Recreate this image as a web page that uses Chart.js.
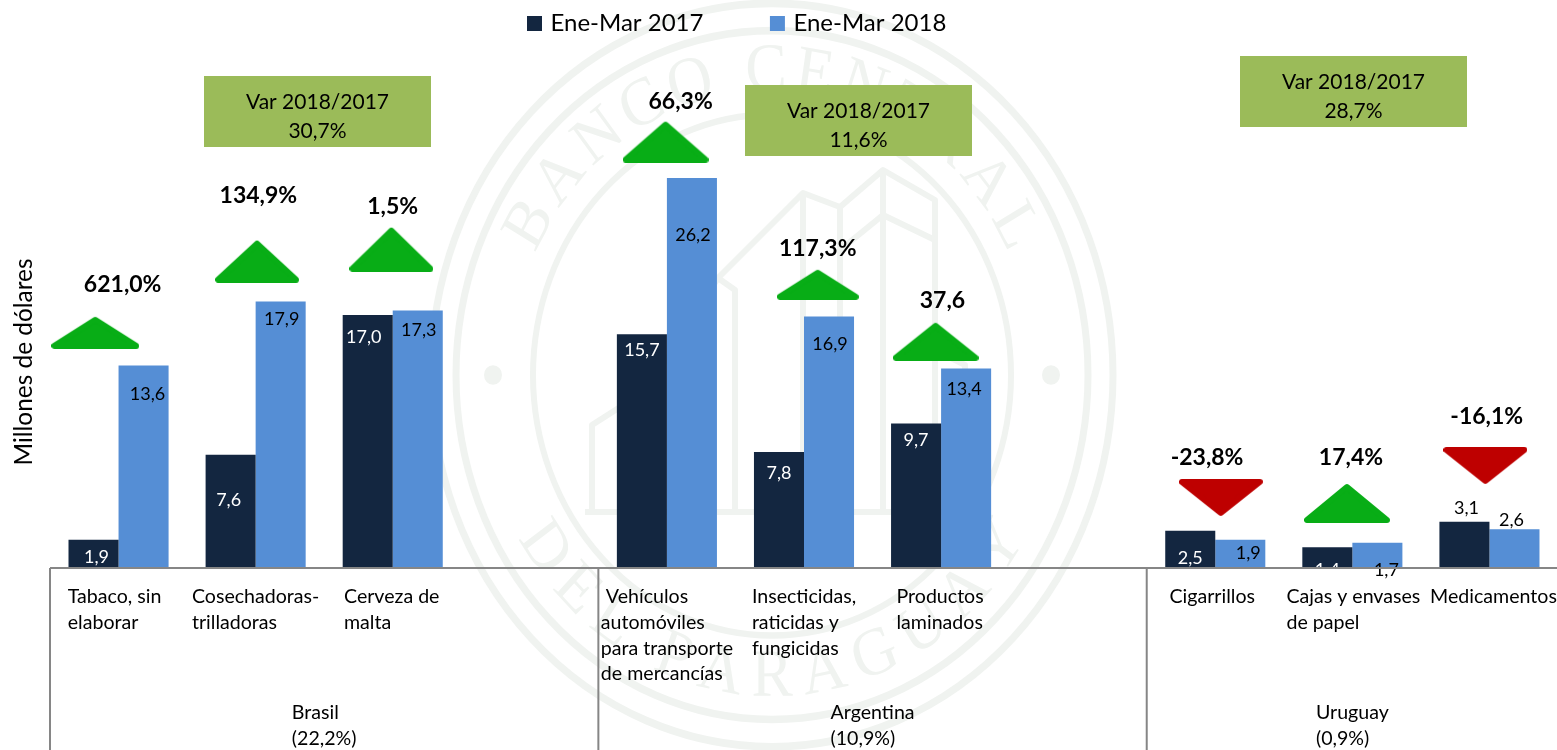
<!DOCTYPE html>
<html><head><meta charset="utf-8">
<style>html,body{margin:0;padding:0;background:#fff;overflow:hidden}canvas{display:block}</style>
<script src="https://cdn.jsdelivr.net/npm/chart.js@4"></script>
</head><body><canvas id="c" width="1564" height="750"></canvas>
<script>
// ---- data ----
const categories = ['Tabaco, sin|elaborar','Cosechadoras-|trilladoras','Cerveza de|malta','',' Vehículos|automóviles|para transporte|de mercancías','Insecticidas,|raticidas y|fungicidas','Productos|laminados','','Cigarrillos','Cajas y envases|de papel','Medicamentos'];
const series2017 = [1.9,7.6,17.0,null,15.7,7.8,9.7,null,2.5,1.4,3.1];
const series2018 = [13.6,17.9,17.3,null,26.2,16.9,13.4,null,1.9,1.7,2.6];
const seriesNames = ['Ene-Mar 2017','Ene-Mar 2018'];
const groups = ['Brasil|(22,2%)','Argentina|(10,9%)','Uruguay|(0,9%)'];
const groupSpans = [[-0.5,3.5],[3.5,7.5],[7.5,10.5]];
const varLabels = ['621,0%','134,9%','1,5%','66,3%','117,3%','37,6','-23,8%','17,4%','-16,1%'];
const varBoxTexts = [['Var 2018/2017','30,7%'],['Var 2018/2017','11,6%'],['Var 2018/2017','28,7%']];
const yTitle = 'Millones de dólares';
const arrowX = [-0.17,1.01,1.99,3.99,5.10,5.96,8.04,8.96,9.97];
const arrowY = [15.83,20.61,21.41,28.64,19.06,15.23,4.71,4.37,6.86];
const varLabelX = [0.03,1.02,2.0,4.10,5.10,6.01,7.94,8.99,9.98];
const varLabelY = [19.03,25.01,24.27,31.33,21.45,17.95,7.39,7.39,10.15];

// ---- layout / style ----
const FONT = 'Lato';
const DARK = '#132640', BLUE = '#558ED5', GREEN = '#08AD16', RED = '#BE0000', BOXC = '#9BBB59', AXIS = '#868686', WM = '#F0F3F0';
const arrowSizes = [[88,33],[84,43],[84,45],[86,42],[82,31],[86,39],[84,38],[86,40],[84,38]];
const boxRects = [[204,76,227,71],[745,85,227,71],[1240,56,227,71]];
const nudge2017 = [[3,17],[-2,45],[-4,22],null,[0,16],[0,21],[0,17],null,[0,27],[0,23],[2,-14]];
const nudge2018 = [[4,29],[1,18],[1,20],null,[1,57],[1,28],[-2,21],null,[8,13],[9,27],[-3,-9]];
const tickShift = [-4,0,-1,0,0,0,-1,0,-3,1,4];
const blackDark = [10];

function arrowCanvas(size, down){
  const [w,h] = size, c = document.createElement('canvas');
  c.width = w; c.height = h;
  const g = c.getContext('2d'), r = 3;
  g.fillStyle = g.strokeStyle = down ? RED : GREEN;
  g.lineWidth = r*2; g.lineJoin = 'round';
  g.beginPath();
  if(down){ g.moveTo(r,r); g.lineTo(w-r,r); g.lineTo(w/2,h-r-1); }
  else { g.moveTo(r,h-r); g.lineTo(w-r,h-r); g.lineTo(w/2,r+1); }
  g.closePath(); g.fill(); g.stroke();
  return c;
}
const arrowStyles = arrowSizes.map((s,i)=>arrowCanvas(s, varLabels[i][0]==='-'));

function block(ctx, text, cx, y, lh, font, color){
  const lines = text.split('|');
  ctx.font = font; ctx.fillStyle = color; ctx.textBaseline='middle'; ctx.textAlign='left';
  const w = Math.max(...lines.map(l=>ctx.measureText(l).width));
  lines.forEach((l,i)=>ctx.fillText(l, cx-w/2, y+i*lh));
}

function arcText(ctx, text, r, top){
  ctx.font = '400 62px "Liberation Serif"';
  ctx.textAlign='center'; ctx.textBaseline='middle';
  const sp = 9;
  const chars = [...text];
  const widths = chars.map(ch=>ctx.measureText(ch).width+sp);
  const total = widths.reduce((a,b)=>a+b,0);
  let a = -total/2;
  chars.forEach((ch,i)=>{
    const t = (a+widths[i]/2)/r;
    a += widths[i];
    ctx.save();
    if(top){ ctx.rotate(t); ctx.translate(0,-r); }
    else { ctx.rotate(-t); ctx.translate(0,r); }
    ctx.fillText(ch,0,0);
    ctx.restore();
  });
}

const decor = {
  id:'decor',
  afterLayout(chart){
    const L = chart.legend, p = chart.options.plugins.legend.labels.padding;
    L.left = 530.5-p; L.top = 11.5-p; L.right = 1100; L.bottom = 60;
  },
  beforeDraw(chart){
    const ctx = chart.ctx;
    ctx.save();
    ctx.fillStyle='#fff'; ctx.fillRect(0,0,chart.width,chart.height);
    ctx.translate(772,375); ctx.scale(1,1.09);
    ctx.strokeStyle = ctx.fillStyle = WM;
    [[341,7],[316,7],[239,6]].forEach(([r,w])=>{ctx.lineWidth=w;ctx.beginPath();ctx.arc(0,0,r,0,Math.PI*2);ctx.stroke();});
    [-1,1].forEach(s=>{ctx.beginPath();ctx.arc(s*279,0,9,0,Math.PI*2);ctx.fill();});
    arcText(ctx,'BANCO CENTRAL',278,true);
    arcText(ctx,'DEL PARAGUAY',278,false);
    ctx.restore();
    // building outline of the seal
    ctx.save();
    ctx.strokeStyle = WM; ctx.lineWidth = 6; ctx.lineJoin='round';
    const paths = [
      [[585,512],[960,512]],
      [[592,512],[592,425],[628,402],[628,512]],
      [[628,420],[718,278],[735,290],[735,512]],
      [[718,278],[803,193],[840,207],[840,512]],
      [[803,193],[803,512]],
      [[840,207],[883,170],[935,200],[935,512]],
      [[883,170],[883,512]],
      [[840,250],[883,215],[935,240]],
      [[935,350],[965,365],[965,512]]
    ];
    paths.forEach(p=>{ctx.beginPath();p.forEach(([x,y],i)=>i?ctx.lineTo(x,y):ctx.moveTo(x,y));ctx.stroke();});
    ctx.restore();
  },
  afterDatasetsDraw(chart){
    const ctx = chart.ctx, xs = chart.scales.x, bottom = chart.chartArea.bottom;
    ctx.save();
    // bar value labels
    [[series2017,nudge2017,0],[series2018,nudge2018,1]].forEach(([vals,nud,ds])=>{
      const meta = chart.getDatasetMeta(ds);
      vals.forEach((v,i)=>{
        if(v==null) return;
        const el = meta.data[i];
        const color = ds===0 && !blackDark.includes(i) ? '#fff' : '#000';
        ctx.font = '18px '+FONT; ctx.fillStyle=color; ctx.textAlign='center'; ctx.textBaseline='middle';
        ctx.fillText(v.toFixed(1).replace('.',','), el.x+nud[i][0], el.y+nud[i][1]);
      });
    });
    // axis line and group separators
    ctx.strokeStyle = AXIS; ctx.lineWidth = 2;
    ctx.beginPath(); ctx.moveTo(xs.getPixelForValue(-0.5),bottom); ctx.lineTo(chart.width,bottom); ctx.stroke();
    groupSpans.forEach(([a])=>{
      const x = xs.getPixelForValue(a);
      ctx.beginPath(); ctx.moveTo(x,bottom); ctx.lineTo(x,chart.height); ctx.stroke();
    });
    // category labels
    categories.forEach((c,i)=>{ if(c) block(ctx,c,xs.getPixelForValue(i)+tickShift[i],bottom+29,25.7,'19.6px '+FONT,'#000'); });
    // group labels
    groups.forEach((g,i)=>{
      const [a,b]=groupSpans[i];
      block(ctx,g,(xs.getPixelForValue(a)+xs.getPixelForValue(b))/2,713,26,'19.6px '+FONT,'#000');
    });
    // variation boxes
    boxRects.forEach(([x,y,w,h],i)=>{
      ctx.fillStyle=BOXC; ctx.fillRect(x,y,w,h);
      ctx.fillStyle='#000'; ctx.font='21px '+FONT; ctx.textAlign='center'; ctx.textBaseline='middle';
      ctx.fillText(varBoxTexts[i][0],x+w/2,y+26);
      ctx.fillText(varBoxTexts[i][1],x+w/2,y+55);
    });
    // variation percentages
    const lm = chart.getDatasetMeta(3);
    varLabels.forEach((t,i)=>{
      const el = lm.data[i];
      ctx.fillStyle='#000'; ctx.font='bold 23px '+FONT; ctx.textAlign='center'; ctx.textBaseline='middle';
      ctx.fillText(t,el.x,el.y);
    });
    // y title
    ctx.translate(24,362); ctx.rotate(-Math.PI/2);
    ctx.fillStyle='#000'; ctx.font='24.4px '+FONT; ctx.textAlign='center'; ctx.textBaseline='middle';
    ctx.fillText(yTitle,0,0);
    ctx.restore();
  }
};

new Chart(document.getElementById('c'),{
  data:{
    datasets:[
      {type:'bar',label:seriesNames[0],data:series2017.map((y,x)=>({x,y})),backgroundColor:DARK,categoryPercentage:0.73,barPercentage:1},
      {type:'bar',label:seriesNames[1],data:series2018.map((y,x)=>({x,y})),backgroundColor:BLUE,categoryPercentage:0.73,barPercentage:1},
      {type:'scatter',label:'Flechas',showLine:false,clip:false,
       data:arrowX.map((x,i)=>({x,y:arrowY[i]})),pointStyle:arrowStyles,pointRadius:5,pointHoverRadius:5},
      {type:'scatter',label:'Variación',showLine:false,clip:false,
       data:varLabelX.map((x,i)=>({x,y:varLabelY[i]})),pointRadius:0,pointHoverRadius:0}
    ]
  },
  options:{
    responsive:false,animation:false,
    layout:{padding:{left:50,right:2,top:0,bottom:182}},
    scales:{
      x:{type:'linear',display:false,min:-0.5,max:10.5,offset:false,ticks:{stepSize:1,includeBounds:false},grid:{display:false}},
      y:{display:false,min:0,max:31.17,grid:{display:false}}
    },
    plugins:{
      tooltip:{enabled:false},
      legend:{
        position:'top',align:'start',
        labels:{
          filter:(it)=>it.datasetIndex<2,
          generateLabels:(chart)=>Chart.defaults.plugins.legend.labels.generateLabels(chart).map(i=>({...i,strokeStyle:i.fillStyle,lineWidth:7})),
          boxWidth:8,boxHeight:8,padding:70,color:'#000',
          font:{family:FONT,size:24}
        }
      }
    }
  },
  plugins:[decor]
});
</script></body></html>
